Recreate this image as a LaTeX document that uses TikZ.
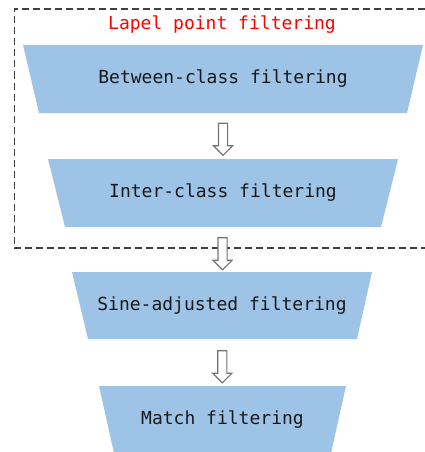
\documentclass[tikz,border=0pt]{standalone}
\usepackage{fontspec}
\setmonofont{DejaVu Sans Mono}
\usetikzlibrary{shapes.arrows,calc}
\definecolor{stageblue}{RGB}{157,195,230}
\begin{document}
\begin{tikzpicture}[x=1pt,y=-1pt]
        \tikzstyle{every node}=[font=\ttfamily\fontsize{18}{20}\selectfont]
        \tikzstyle{stage}=[inner sep=0pt, text=black!90]
        \tikzstyle{downarrow}=[single arrow, shape border rotate=270, draw=black!55, line width=1.1pt, fill=white, minimum height=32pt, single arrow head extend=5pt, inner sep=4pt]
        \useasboundingbox (0,0) rectangle (425,452);
        % dashed group
        \coordinate (grouptop) at (425,9);
        \coordinate (groupbot) at (425,248);
        \draw[dash pattern=on 7pt off 4pt, line width=1.2pt, black!75] (grouptop) -| (14.5,248) -- (groupbot);
        \node[text=red] (grouplabel) at (222,25) {Lapel point filtering};
        % stages
        \fill[stageblue] (23,45) -- (423,45) -- (407,113) -- (39,113) -- cycle;
        \fill[stageblue] (48,159) -- (398,159) -- (381,227) -- (65,227) -- cycle;
        \fill[stageblue] (72,272) -- (372,272) -- (357,339) -- (88,339) -- cycle;
        \fill[stageblue] (99,386) -- (346,386) -- (331,453) -- (114,453) -- cycle;
        \node[stage, minimum height=68pt] (between) at (223,79) {Between-class filtering};
        \node[stage, minimum height=68pt] (inter) at (223,193) {Inter-class filtering};
        \node[stage, minimum height=67pt] (sine) at (222,305.5) {Sine-adjusted filtering};
        \node[stage, minimum height=67pt] (match) at (222.5,419.5) {Match filtering};
        \node[downarrow] (a1) at ($(between.south)!0.5!(inter.north)+(0,1)$) {};
        \node[downarrow] (a2) at ($(inter.south)!0.5!(sine.north)+(0,2)$) {};
        \node[downarrow] (a3) at ($(sine.south)!0.5!(match.north)+(0,2)$) {};
    \end{tikzpicture}
\end{document}
